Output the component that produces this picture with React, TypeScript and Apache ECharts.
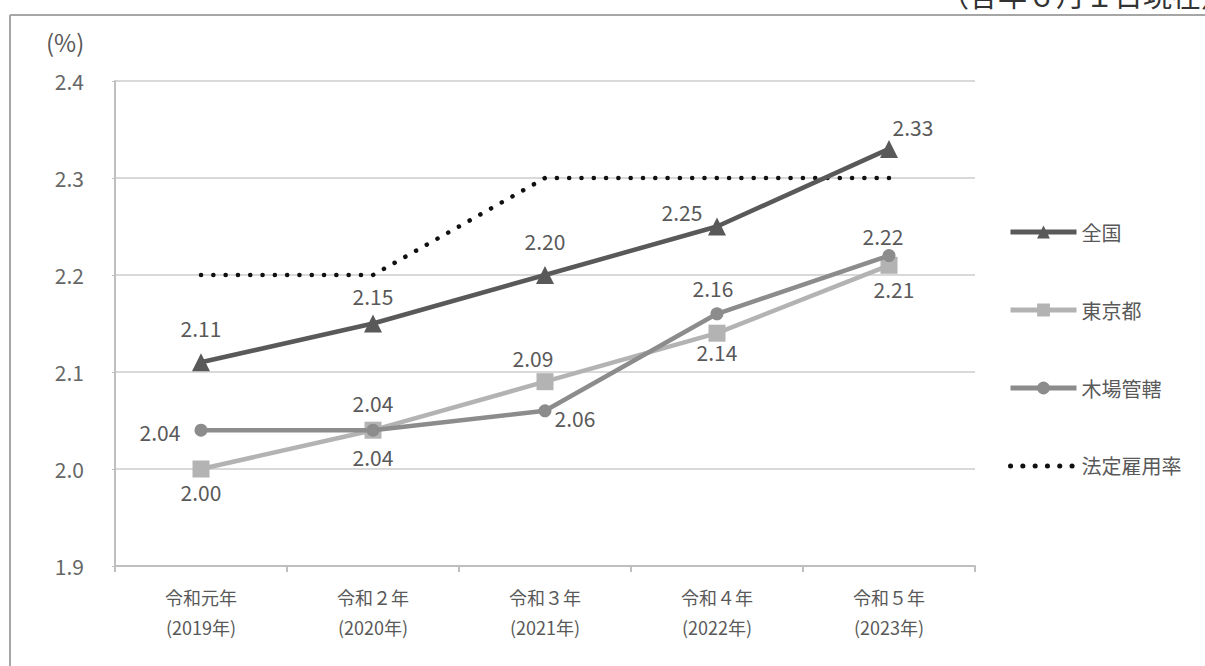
import React, { useEffect, useRef } from "react";
import * as echarts from "echarts";

const categories = ["令和元年\n(2019年)", "令和２年\n(2020年)", "令和３年\n(2021年)", "令和４年\n(2022年)", "令和５年\n(2023年)"];
const seriesNames = ["全国", "東京都", "木場管轄", "法定雇用率"];
const zenkoku = [2.11, 2.15, 2.2, 2.25, 2.33];
const tokyo = [2.0, 2.04, 2.09, 2.14, 2.21];
const kiba = [2.04, 2.04, 2.06, 2.16, 2.22];
const houtei = [2.2, 2.2, 2.3, 2.3, 2.3];
const houteiLabelShown = [true, false, true, false, false];
const yTicks = { min: 1.9, max: 2.4, interval: 0.1 };
const unitLabel = "(%)";
const noteText = "（各年６月１日現在）";

// label offsets (style only)
const zenkokuOff = [[0, -34], [0, -28], [0, -34], [-35, -15], [24, -22]];
const tokyoOff = [[0, 23], [0, 27], [-12, -24], [0, 19], [5, 24]];
const kibaOff = [[-41, 2], [0, -27], [30, 7], [-4, -26], [-6, -20]];
const houteiOff = [[-47, 1], [0, 0], [-61, -7], [0, 0], [0, 0]];

const FONT = "'Noto Sans CJK JP', 'Noto Sans', sans-serif";
const LABEL_COLOR = "#595959";

function withLabels(values: number[], offs: number[][], shown?: boolean[]) {
  return values.map((v, i) => ({
    value: v,
    label: {
      show: shown ? shown[i] : true,
      position: "inside",
      offset: offs[i],
      formatter: v.toFixed(2),
      color: LABEL_COLOR,
      fontSize: 21,
      fontFamily: FONT,
    },
  }));
}

export default function App() {
  const ref = useRef<HTMLDivElement>(null);
  useEffect(() => {
    if (!ref.current) return;
    const chart = echarts.init(ref.current, undefined, { renderer: "svg" });
    chart.setOption({
      animation: false,
      backgroundColor: "#ffffff",
      textStyle: { fontFamily: FONT },
      grid: { left: 115, right: 230, top: 81, bottom: 100 },
      graphic: [
        { type: "line", shape: { x1: 10, y1: 15, x2: 1205, y2: 15 }, style: { stroke: "#a6a6a6", lineWidth: 2 } },
        { type: "line", shape: { x1: 10, y1: 15, x2: 10, y2: 666 }, style: { stroke: "#a6a6a6", lineWidth: 2 } },
        { type: "text", x: 46, y: 29, style: { text: unitLabel, fontSize: 24, fill: LABEL_COLOR, fontFamily: FONT } },
        { type: "text", x: 940, y: -21, style: { text: noteText, fontSize: 29, fill: "#333333", fontFamily: FONT } },
      ],
      legend: {
        orient: "vertical",
        left: 1003,
        top: 217,
        itemWidth: 66,
        itemHeight: 16,
        itemGap: 58,
        lineStyle: { width: 5 },
        data: [
          { name: seriesNames[0] },
          { name: seriesNames[1] },
          { name: seriesNames[2] },
          { name: seriesNames[3], itemStyle: { opacity: 0, color: "transparent", borderWidth: 0 } },
        ],
        textStyle: { fontSize: 20, color: LABEL_COLOR, fontFamily: FONT },
      },
      xAxis: {
        type: "category",
        data: categories,
        boundaryGap: true,
        axisLine: { lineStyle: { color: "#bfbfbf", width: 2 } },
        axisTick: { show: true, length: 6, lineStyle: { color: "#bfbfbf", width: 2 } },
        axisLabel: { color: "#595959", fontSize: 18, lineHeight: 30, margin: 16, fontFamily: FONT },
      },
      yAxis: {
        type: "value",
        min: yTicks.min,
        max: yTicks.max,
        interval: yTicks.interval,
        axisLine: { show: true, lineStyle: { color: "#bfbfbf", width: 2 } },
        axisTick: { show: true, length: 3, lineStyle: { color: "#bfbfbf" } },
        splitLine: { lineStyle: { color: "#d9d9d9", width: 2 } },
        axisLabel: {
          color: "#666666",
          fontSize: 21,
          margin: 31,
          fontFamily: FONT,
          formatter: (v: number) => v.toFixed(1),
        },
      },
      series: [
        {
          name: seriesNames[0],
          type: "line",
          data: withLabels(zenkoku, zenkokuOff),
          symbol: "triangle",
          symbolSize: 18,
          itemStyle: { color: "#595959" },
          lineStyle: { color: "#595959", width: 4.5 },
          z: 5,
        },
        {
          name: seriesNames[1],
          type: "line",
          data: withLabels(tokyo, tokyoOff),
          symbol: "rect",
          symbolSize: 17,
          itemStyle: { color: "#b3b3b3" },
          lineStyle: { color: "#b3b3b3", width: 4.5 },
          z: 3,
        },
        {
          name: seriesNames[2],
          type: "line",
          data: withLabels(kiba, kibaOff),
          symbol: "circle",
          symbolSize: 13,
          itemStyle: { color: "#8c8c8c" },
          lineStyle: { color: "#8c8c8c", width: 4.5 },
          z: 4,
        },
        {
          name: seriesNames[3],
          type: "line",
          data: withLabels(houtei, houteiOff, houteiLabelShown),
          symbol: "none",
          itemStyle: { color: "#111111" },
          lineStyle: { color: "#111111", width: 4.5, type: [0.1, 12.2], cap: "round" },
          z: 2,
        },
      ],
    });
    return () => chart.dispose();
  }, []);
  return <div ref={ref} style={{ position: "fixed", left: 0, top: 0, width: 1205, height: 666 }} />;
}
